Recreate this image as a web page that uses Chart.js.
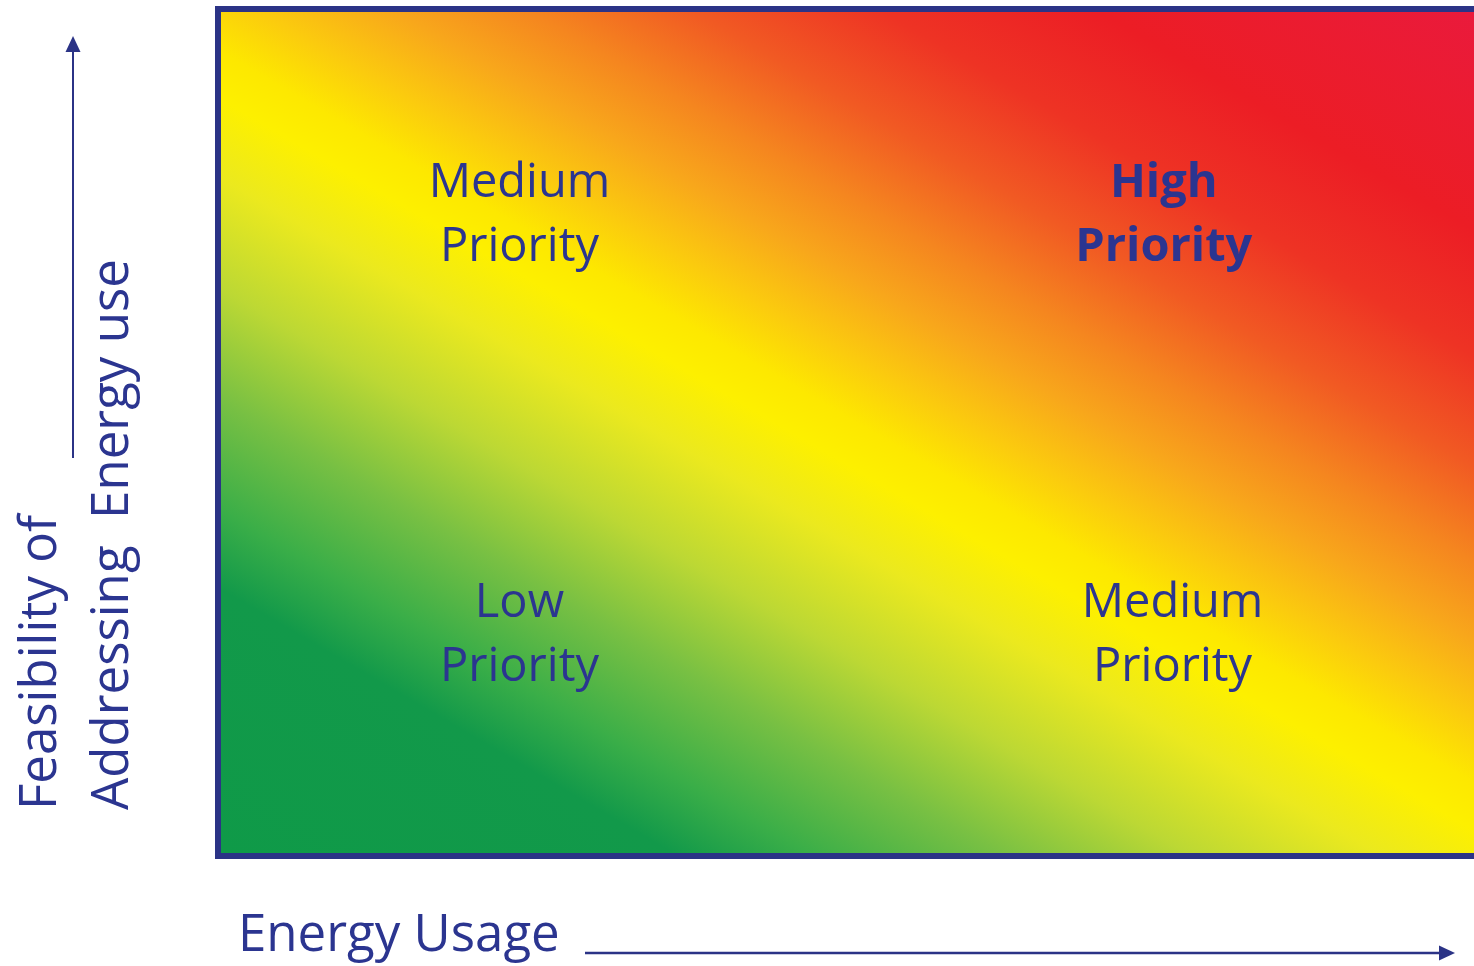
<!DOCTYPE html>
<html>
<head>
<meta charset="utf-8">
<title>Energy priority matrix</title>
<script src="https://cdn.jsdelivr.net/npm/chart.js@4.4.0/dist/chart.umd.min.js"></script>
<style>
  html, body { margin: 0; padding: 0; background: #fff; }
  #wrap { width: 1474px; height: 966px; }
</style>
</head>
<body>
<div id="wrap"><canvas id="matrixChart"></canvas></div>
<script>
// Quadrant labels, placed on a 0-100 grid (x: energy usage, y: feasibility)
const quadrantNames = ['Medium\nPriority', 'High\nPriority', 'Low\nPriority', 'Medium\nPriority'];
const quadrantX = [24, 75.3, 24, 76];
const quadrantY = [76, 76, 26.4, 26.4];
const quadrantBold = [false, true, false, false];

const xAxisTitle = 'Energy Usage';
const yAxisTitle = ['Feasibility of', 'Addressing  Energy use'];

const navy = '#2b3590';
const frameColor = '#2b3386';

// green -> yellow -> red, running across the diagonal
const gradientStops = [
    [0.00, '#0f9a48'],
    [0.17, '#12994a'],
    [0.22, '#3aae48'],
    [0.29, '#78c043'],
    [0.36, '#bcd834'],
    [0.43, '#ebe91e'],
    [0.48, '#fdf000'],
    [0.51, '#fde800'],
    [0.55, '#fbcb0e'],
    [0.60, '#f8a71b'],
    [0.65, '#f5861f'],
    [0.71, '#f15a23'],
    [0.78, '#ee3324'],
    [0.86, '#ec1d25'],
    [1.00, '#ea1a3c']
];

const points = quadrantX.map((x, i) => ({ x: x, y: quadrantY[i] }));

/**
 * Fills the plot area with the priority gradient
 */
const gradientBackground = {
    id: 'gradientBackground',
    beforeDatasetsDraw(chart) {
        const { ctx, chartArea: a } = chart;
        const nx = 0.504, ny = -0.864;
        const corners = [[a.left, a.top], [a.right, a.top], [a.left, a.bottom], [a.right, a.bottom]];
        const ts = corners.map(c => c[0] * nx + c[1] * ny);
        const tMin = Math.min(...ts), tMax = Math.max(...ts);
        const grad = ctx.createLinearGradient(tMin * nx, tMin * ny, tMax * nx, tMax * ny);
        gradientStops.forEach(s => grad.addColorStop(s[0], s[1]));
        ctx.save();
        ctx.fillStyle = grad;
        ctx.fillRect(a.left, a.top, a.right - a.left, a.bottom - a.top);
        ctx.restore();
    }
};

function drawArrow(ctx, x1, y1, x2, y2) {
    const ang = Math.atan2(y2 - y1, x2 - x1);
    const len = 16, half = 7.5;
    ctx.beginPath();
    ctx.moveTo(x1, y1);
    ctx.lineTo(x2 - Math.cos(ang) * len, y2 - Math.sin(ang) * len);
    ctx.stroke();
    ctx.beginPath();
    ctx.moveTo(x2, y2);
    ctx.lineTo(x2 - Math.cos(ang) * len - Math.sin(ang) * half, y2 - Math.sin(ang) * len + Math.cos(ang) * half);
    ctx.lineTo(x2 - Math.cos(ang) * len + Math.sin(ang) * half, y2 - Math.sin(ang) * len - Math.cos(ang) * half);
    ctx.closePath();
    ctx.fill();
}

/**
 * Frame, quadrant labels, axis titles and arrows
 */
const matrixDecor = {
    id: 'matrixDecor',
    afterDatasetsDraw(chart) {
        const { ctx, chartArea: a } = chart;
        ctx.save();

        // frame (open on the right, as in the original)
        ctx.strokeStyle = frameColor;
        ctx.lineWidth = 6;
        ctx.beginPath();
        ctx.moveTo(a.right + 5, a.top);
        ctx.lineTo(a.left, a.top);
        ctx.lineTo(a.left, a.bottom);
        ctx.lineTo(a.right + 5, a.bottom);
        ctx.stroke();

        // quadrant labels
        const meta = chart.getDatasetMeta(0);
        ctx.fillStyle = navy;
        ctx.textAlign = 'center';
        ctx.textBaseline = 'alphabetic';
        meta.data.forEach((pt, i) => {
            ctx.font = (quadrantBold[i] ? 'bold ' : '') + '47px "Open Sans"';
            const lines = quadrantNames[i].split('\n');
            lines.forEach((line, j) => {
                ctx.fillText(line, pt.x, pt.y - 15 + j * 64);
            });
        });

        // x axis title and arrow
        ctx.textAlign = 'left';
        ctx.font = '51px "Open Sans"';
        ctx.fillText(xAxisTitle, a.left + 20, a.bottom + 95);
        ctx.strokeStyle = frameColor;
        ctx.fillStyle = frameColor;
        ctx.lineWidth = 2.5;
        drawArrow(ctx, 585, a.bottom + 97, 1455, a.bottom + 97);

        // y axis title and arrow
        ctx.fillStyle = navy;
        yAxisTitle.forEach((line, j) => {
            ctx.save();
            ctx.translate(a.left - 162 + j * 72, a.bottom - 46);
            ctx.rotate(-Math.PI / 2);
            ctx.fillText(line, 0, 0);
            ctx.restore();
        });
        ctx.fillStyle = frameColor;
        ctx.lineWidth = 2;
        drawArrow(ctx, a.left - 145, 458, a.left - 145, a.top + 27);

        ctx.restore();
    }
};

new Chart(document.getElementById('matrixChart'), {
    type: 'scatter',
    data: {
        datasets: [{
            label: 'Priority',
            data: points,
            pointRadius: 0,
            pointHoverRadius: 0
        }]
    },
    options: {
        responsive: true,
        maintainAspectRatio: false,
        animation: false,
        layout: {
            padding: { left: 218, top: 9, right: 0, bottom: 110 }
        },
        scales: {
            x: { type: 'linear', min: 0, max: 100, display: false },
            y: { type: 'linear', min: 0, max: 100, display: false }
        },
        plugins: {
            legend: { display: false },
            tooltip: { enabled: false }
        }
    },
    plugins: [gradientBackground, matrixDecor]
});
</script>
</body>
</html>
